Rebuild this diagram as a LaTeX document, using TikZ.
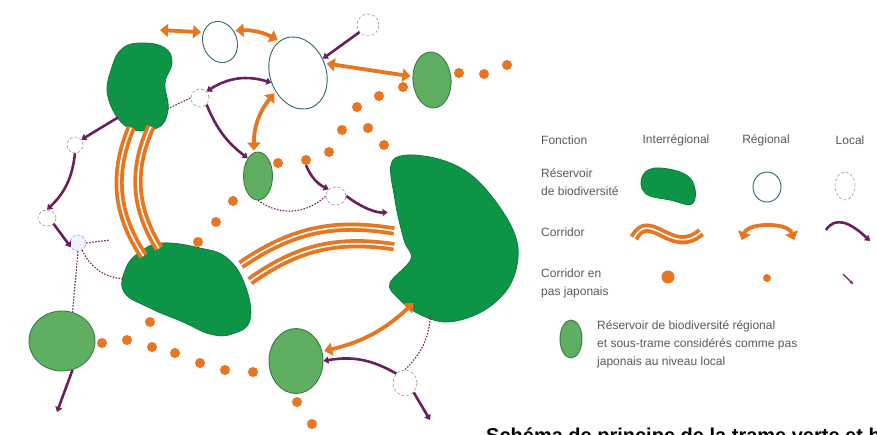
\documentclass[tikz,border=0pt]{standalone}
\usepackage{fontspec}
\setmainfont{Liberation Sans}
\usepackage{tikz}
\usetikzlibrary{arrows.meta,positioning,shapes.geometric}
\definecolor{tvbdark}{HTML}{0E9447}
\definecolor{tvbdarkline}{HTML}{0B7D3B}
\definecolor{tvblight}{HTML}{5FAE62}
\definecolor{tvblightline}{HTML}{3C7A45}
\definecolor{tvborange}{HTML}{E8751F}
\definecolor{tvbpurple}{HTML}{6A1E5C}
\definecolor{tvbteal}{HTML}{2F6A63}
\definecolor{tvbgray}{HTML}{5A5A5A}

\begin{document}
\begin{tikzpicture}[x=1pt,y=-1pt,every node/.style={font=\fontsize{12}{18}\selectfont}]
    \tikzstyle{hub}=[ellipse,inner sep=0pt]
    \tikzstyle{intres}=[fill=tvbdark,draw=tvbdarkline,line width=0.8pt]
    \tikzstyle{regres}=[ellipse,fill=tvblight,draw=tvblightline,line width=0.9pt,inner sep=0pt]
    \tikzstyle{regopen}=[ellipse,fill=white,draw=tvbteal,line width=0.9pt,inner sep=0pt]
    \tikzstyle{locres}=[ellipse,fill=white,draw=gray!80,densely dashed,line width=0.6pt,inner sep=0pt]
    \tikzstyle{stone}=[circle,fill=tvborange,minimum size=10pt,inner sep=0pt]
    \tikzstyle{intcor}=[draw=tvborange,line width=3.8pt,double=white,double distance=1.6pt]
    \tikzstyle{regcor}=[draw=tvborange,line width=3.8pt,{Triangle[width=13pt,length=8pt]}-{Triangle[width=13pt,length=8pt]},shorten <=2pt,shorten >=2pt]
    \tikzstyle{loccor}=[draw=tvbpurple,line width=2.6pt,-{Triangle[width=7pt,length=5pt]}]
    \tikzstyle{locdash}=[draw=tvbpurple,line width=1.1pt,dash pattern=on 1.5pt off 1.5pt]
    \tikzstyle{legtxt}=[text=tvbgray,inner sep=0pt]
    \useasboundingbox (0,0) rectangle (877,434);
    \clip (0,0) rectangle (877,434);
    \fill[white] (0,0) rectangle (877,434);
    % reservoirs interregionaux
    \path[intres] plot[smooth cycle,tension=0.7] coordinates {(143,43) (165,48) (172,63) (165,83) (168,110) (157,128) (127,127) (108,97) (112,67) (123,48)};
    \path[intres] plot[smooth cycle,tension=0.7] coordinates {(140,252) (162,243) (200,248) (227,258) (245,285) (250,320) (232,334) (210,334) (183,322) (150,308) (124,292) (126,268)};
    \path[intres] plot[smooth cycle,tension=0.6] coordinates {(393,160) (430,157) (470,174) (503,212) (518,248) (510,285) (483,311) (447,322) (417,313) (397,297) (390,283) (411,259) (404,240) (395,200)};
    \node[hub,minimum width=64,minimum height=86] (kidney) at (140,86) {};
    \node[hub,minimum width=128,minimum height=92] (plaine) at (187,290) {};
    \node[hub,minimum width=128,minimum height=166] (massif) at (458,240) {};
    % reservoirs regionaux
    \node[regres,minimum width=29,minimum height=48] (rA) at (258,176) {};
    \node[regres,minimum width=38,minimum height=56,rotate=5] (rB) at (432,80) {};
    \node[regres,minimum width=66,minimum height=60] (rC) at (62,341) {};
    \node[regres,minimum width=54,minimum height=65] (rD) at (296,361) {};
    \node[regopen,minimum width=34,minimum height=42,rotate=20] (oA) at (220,42) {};
    \node[regopen,minimum width=56,minimum height=74,rotate=20] (oB) at (298,73) {};
    % reservoirs locaux
    \node[locres,minimum size=22] (lA) at (368,25) {};
    \node[locres,minimum size=18] (lB) at (200,98) {};
    \node[locres,minimum size=16] (lC) at (75,145) {};
    \node[locres,minimum width=18,minimum height=16] (lD) at (47,218) {};
    \node[locres,minimum size=16,draw=blue!40,fill=blue!5] (lE) at (78,243) {};
    \node[locres,minimum width=20,minimum height=18] (lF) at (336,196) {};
    \node[locres,minimum width=24,minimum height=26] (lG) at (405,383) {};
    % pas japonais
    \foreach \x/\y [count=\i] in {198/242,216/222,233/201,278/163,306/160,329/152,342/130,357/107,379/96,403/87,368/128,384/145,459/73,484/74,507/65,102/343,127/340,152/347,175/353,200/363,225/370,253/372,150/322,297/402,312/424}
        \node[stone] (s\i) at (\x,\y) {};
    \coordinate (r1end) at (158,30);
    \coordinate (bandfoot) at (110,240);
    \coordinate (rCout) at (57,412);
    \coordinate (lGout) at (430,420);
    % corridors interregionaux
    \draw[intcor] (kidney.258) to[bend right=28] (plaine.142);
    \draw[intcor] (kidney.285) to[bend right=28] (plaine.124);
    \draw[intcor] (plaine.25) to[bend left=22] (massif.172);
    \draw[intcor] (plaine.8) to[bend left=22] (massif.186);
    % corridors regionaux
    \draw[regcor] (r1end) -- (oA.130);
    \draw[regcor] (oA.20) to[bend left=15] (oB.100);
    \draw[regcor] (oB.east) -- (rB.165);
    \draw[regcor] (oB.200) to[bend right=20] (rA.100);
    \draw[regcor] (massif.-125) to[bend left=15] (rD.20);
    % corridors locaux
    \draw[loccor] (kidney.235) -- (lC.40);
    \draw[loccor] (lC.south) to[bend left=20] (lD.north);
    \draw[loccor,{Triangle[width=7pt,length=5pt]}-{Triangle[width=7pt,length=5pt]}] (lB.north east) to[bend left=25] (oB.west);
    \draw[loccor] (lB.south east) to[bend right=15] (rA.120);
    \draw[loccor] (lA.220) -- (oB.10);
    \draw[loccor] (s5.south) to[bend right=20] (lF.north west);
    \draw[loccor,shorten >=10pt] (lF.east) to[bend right=20] (massif.155);
    \draw[loccor] (lD.south east) -- (lE.210);
    \draw[loccor] (rC.-70) -- (rCout);
    \draw[loccor] (lG.north west) to[bend right=20] (rD.east);
    \draw[loccor] (lG.south east) -- (lGout);
    \draw[locdash] (kidney.320) -- (lB.west);
    \draw[locdash] (rA.south) to[bend right=40] (lF.west);
    \draw[locdash] (lE.east) -- (bandfoot);
    \draw[locdash] (lE.-60) to[bend right=30] (plaine.170);
    \draw[locdash] (lE.south) -- (rC.70);
    \draw[locdash] (massif.-110) to[bend left=20] (lG.north);
    % legende
    \node[legtxt,anchor=west] (fonction) at (541,140) {Fonction};
    \node[legtxt] (interreg) at (676,140) {Interrégional};
    \node[legtxt] (regional) at (766,140) {Régional};
    \node[legtxt] (local) at (850,140) {Local};
    \node[legtxt,anchor=west,align=left] (txtres) at (541,182) {Réservoir\\de biodiversité};
    \node[legtxt,anchor=west] (txtcor) at (541,232) {Corridor};
    \node[legtxt,anchor=west,align=left] (txtpas) at (541,283) {Corridor en\\pas japonais};
    \node[legtxt,anchor=west,align=left] (txtnote) at (597,344) {Réservoir de biodiversité régional\\et sous-trame considérés comme pas\\japonais au niveau local};
    \path[intres] plot[smooth cycle,tension=0.7] coordinates {(643,175) (660,168) (690,178) (693,203) (670,200) (645,193)};
    \node[regopen,minimum width=28,minimum height=30] (legopen) at (767,187) {};
    \node[locres,minimum width=20,minimum height=28] (legloc) at (845,186) {};
    \coordinate (wavA) at (634,238);
    \coordinate (wavB) at (701,232);
    \draw[intcor] (wavA) .. controls (650,208) and (672,258) .. (wavB);
    \coordinate (archA) at (741,242);
    \coordinate (archB) at (795,242);
    \draw[regcor] (archA) to[bend left=70] (archB);
    \coordinate (purA) at (826,230);
    \coordinate (purB) at (870,241);
    \draw[loccor] (purA) .. controls (835,216) and (850,222) .. (purB);
    \node[stone,minimum size=13] (legstone) at (668,277) {};
    \node[stone,minimum size=8] (legstonereg) at (767,278) {};
    \coordinate (tinyA) at (843,274);
    \coordinate (tinyB) at (853,284);
    \draw[draw=tvbpurple,line width=1.2pt,-{Triangle[width=3pt,length=3pt]}] (tinyA) -- (tinyB);
    \node[regres,minimum width=22,minimum height=38] (legreg) at (571,339) {};
    \node[anchor=base west,font=\bfseries\fontsize{20}{24}\selectfont,inner sep=0pt] (caption) at (486,442) {Schéma de principe de la trame verte et bleue};
\end{tikzpicture}
\end{document}
